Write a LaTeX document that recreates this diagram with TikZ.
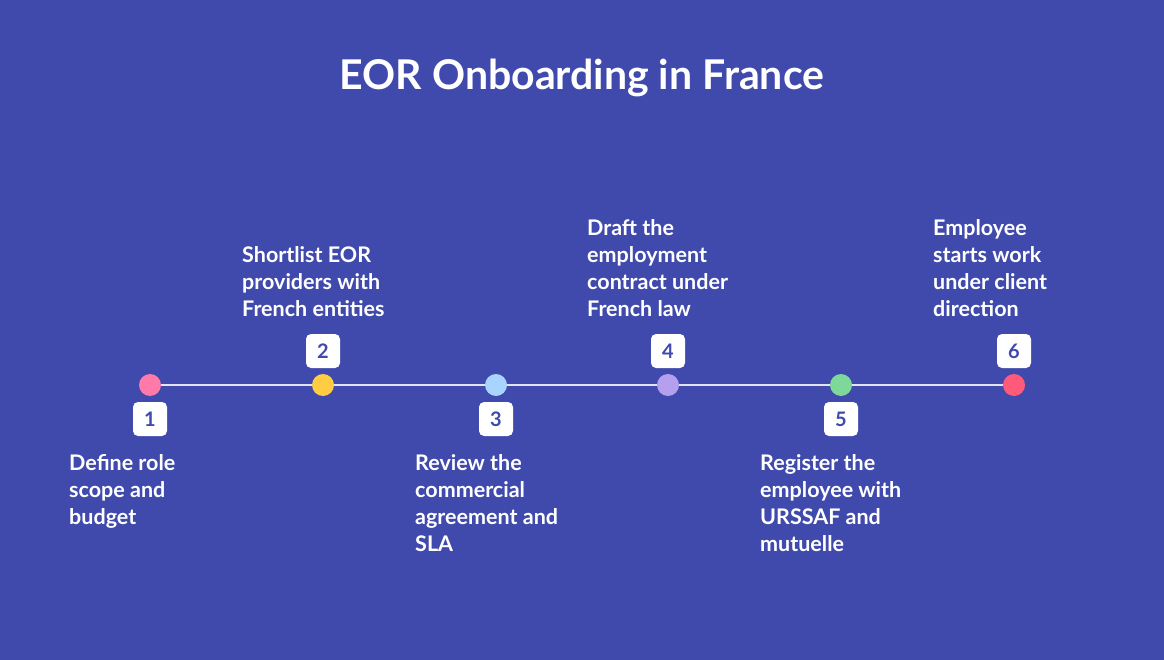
\documentclass[tikz,border=0pt]{standalone}
\usepackage{fontspec}
\setmainfont{Lato}
\definecolor{bg}{RGB}{64,74,172}
\definecolor{c1}{RGB}{255,122,168}
\definecolor{c2}{RGB}{255,204,68}
\definecolor{c3}{RGB}{168,212,255}
\definecolor{c4}{RGB}{181,160,240}
\definecolor{c5}{RGB}{126,216,154}
\definecolor{c6}{RGB}{255,90,122}
\begin{document}
\begin{tikzpicture}[x=1pt,y=-1pt,
  dot/.style={circle,minimum size=22pt,inner sep=0pt},
  numbox/.style={fill=white,rounded corners=5pt,minimum size=34pt,inner sep=0pt,text=bg,font=\fontsize{20}{20}\selectfont\bfseries},
  lbl/.style={text=white,align=left,inner sep=0pt,font=\fontsize{21.5}{27}\selectfont\bfseries},
  timeline/.style={draw=white!85!bg,line width=2pt}]
\fill[bg] (0,0) rectangle (1164,660);
\useasboundingbox (0,0) rectangle (1164,660);
\node[text=white,font=\fontsize{41}{41}\selectfont\bfseries] (title) at (582,78) {EOR Onboarding in France};
\coordinate (p1) at (150,385);
\coordinate (p2) at (323,385);
\coordinate (p3) at (496,385);
\coordinate (p4) at (668,385);
\coordinate (p5) at (841,385);
\coordinate (p6) at (1014,385);
\draw[timeline] (p1) -- (p6);
\node[dot,fill=c1] (d1) at (p1) {};
\node[dot,fill=c2] (d2) at (p2) {};
\node[dot,fill=c3] (d3) at (p3) {};
\node[dot,fill=c4] (d4) at (p4) {};
\node[dot,fill=c5] (d5) at (p5) {};
\node[dot,fill=c6] (d6) at (p6) {};
\node[numbox] (n1) at (150,419) {1};
\node[numbox] (n2) at (323,351) {2};
\node[numbox] (n3) at (496,419) {3};
\node[numbox] (n4) at (668,351) {4};
\node[numbox] (n5) at (841,419) {5};
\node[numbox] (n6) at (1014,351) {6};
\node[lbl,anchor=north west] (t1) at (69,454) {Define role\\scope and\\budget};
\node[lbl,anchor=south west] (t2) at (242,317) {Shortlist EOR\\providers with\\French entities};
\node[lbl,anchor=north west] (t3) at (415,454) {Review the\\commercial\\agreement and\\SLA};
\node[lbl,anchor=south west] (t4) at (587,317) {Draft the\\employment\\contract under\\French law};
\node[lbl,anchor=north west] (t5) at (760,454) {Register the\\employee with\\URSSAF and\\mutuelle};
\node[lbl,anchor=south west] (t6) at (933,317) {Employee\\starts work\\under client\\direction};
\end{tikzpicture}
\end{document}
